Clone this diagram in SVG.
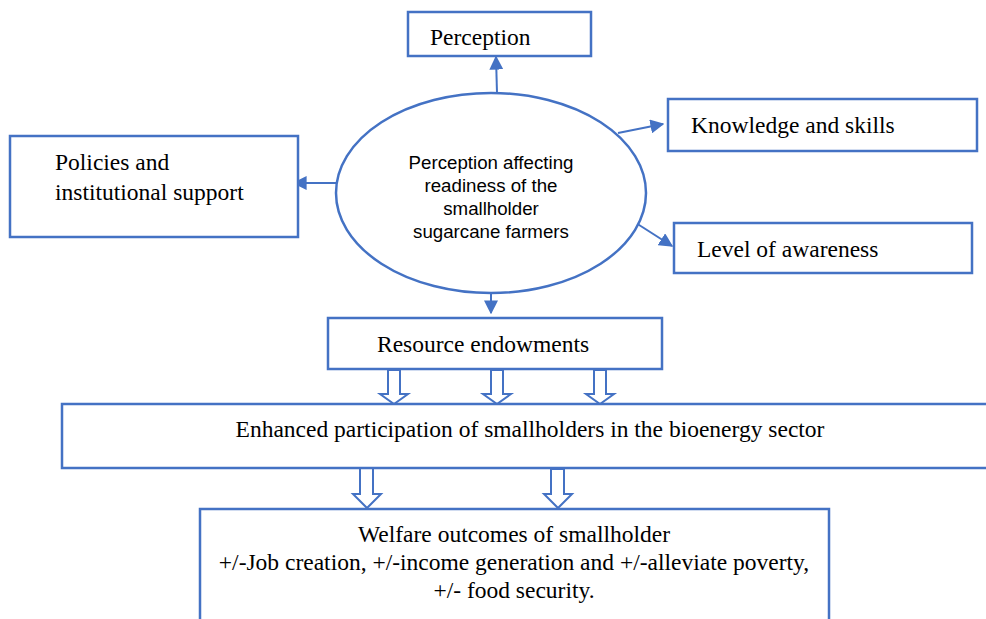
<svg xmlns="http://www.w3.org/2000/svg" width="986" height="619" viewBox="0 0 986 619">
<defs>
<style>
.box{fill:#fff;stroke:#4472C4;stroke-width:2.5}
.t{font-family:"Liberation Serif","Times New Roman",serif;font-size:23.5px;fill:#000}
.s{font-family:"Liberation Sans",Arial,sans-serif;font-size:18.7px;fill:#000;text-anchor:middle}
.blk{fill:#fff;stroke:#4472C4;stroke-width:2}
</style>
<marker id="ah2" viewBox="0 0 10 10" refX="9" refY="5" markerWidth="14" markerHeight="14" markerUnits="userSpaceOnUse" orient="auto"><path d="M0,0 L10,5 L0,10 z" fill="#4472C4"/></marker>
</defs>
<g id="connectors">
<line x1="497" y1="93" x2="496" y2="57" stroke="#4472C4" stroke-width="2" marker-end="url(#ah2)"/>
<line x1="618" y1="133" x2="663" y2="124" stroke="#4472C4" stroke-width="2" marker-end="url(#ah2)"/>
<line x1="636" y1="223" x2="672" y2="246" stroke="#4472C4" stroke-width="2" marker-end="url(#ah2)"/>
<line x1="336" y1="183" x2="294" y2="183" stroke="#4472C4" stroke-width="2" marker-end="url(#ah2)"/>
<line x1="491" y1="294" x2="491" y2="313" stroke="#4472C4" stroke-width="2" marker-end="url(#ah2)"/>
<path class="blk" d="M388,370 L400,370 L400,394 L408,394 L394,404 L380,394 L388,394 Z"/>
<path class="blk" d="M491,370 L503,370 L503,394 L511,394 L497,404 L483,394 L491,394 Z"/>
<path class="blk" d="M594,370 L606,370 L606,394 L614,394 L600,404 L586,394 L594,394 Z"/>
<path class="blk" d="M360,468 L373,468 L373,494 L381,494 L367,508 L353,494 L360,494 Z"/>
<path class="blk" d="M551,469 L564,469 L564,494 L572,494 L558,508 L544,494 L551,494 Z"/>
</g>
<g id="perception"><rect class="box" x="408" y="12" width="183" height="44"/><text class="t" x="430" y="45">Perception</text></g>
<g id="center"><ellipse cx="491" cy="193" rx="155" ry="100" fill="#fff" stroke="#4472C4" stroke-width="2.5"/>
<text class="s" x="491" y="169">Perception affecting</text>
<text class="s" x="491" y="192">readiness of the</text>
<text class="s" x="491" y="215">smallholder</text>
<text class="s" x="491" y="238">sugarcane farmers</text></g>
<g id="knowledge"><rect class="box" x="668" y="99" width="309" height="52"/><text class="t" x="691" y="133">Knowledge and skills</text></g>
<g id="awareness"><rect class="box" x="674" y="223" width="298" height="50"/><text class="t" x="697" y="257">Level of awareness</text></g>
<g id="policies"><rect class="box" x="10" y="136" width="288" height="101"/><text class="t" x="55" y="170">Policies and</text><text class="t" x="55" y="200">institutional support</text></g>
<g id="resource"><rect class="box" x="328" y="318" width="334" height="51"/><text class="t" x="377" y="352">Resource endowments</text></g>
<g id="enhanced"><rect class="box" x="62" y="404" width="930" height="64"/><text class="t" x="530" y="437" text-anchor="middle">Enhanced participation of smallholders in the bioenergy sector</text></g>
<g id="welfare"><rect class="box" x="200" y="509" width="629" height="120"/>
<text class="t" x="514" y="542" text-anchor="middle">Welfare outcomes of smallholder</text>
<text class="t" x="514" y="570" text-anchor="middle">+/-Job creation, +/-income generation and +/-alleviate poverty,</text>
<text class="t" x="514" y="598" text-anchor="middle">+/- food security.</text></g>
</svg>
